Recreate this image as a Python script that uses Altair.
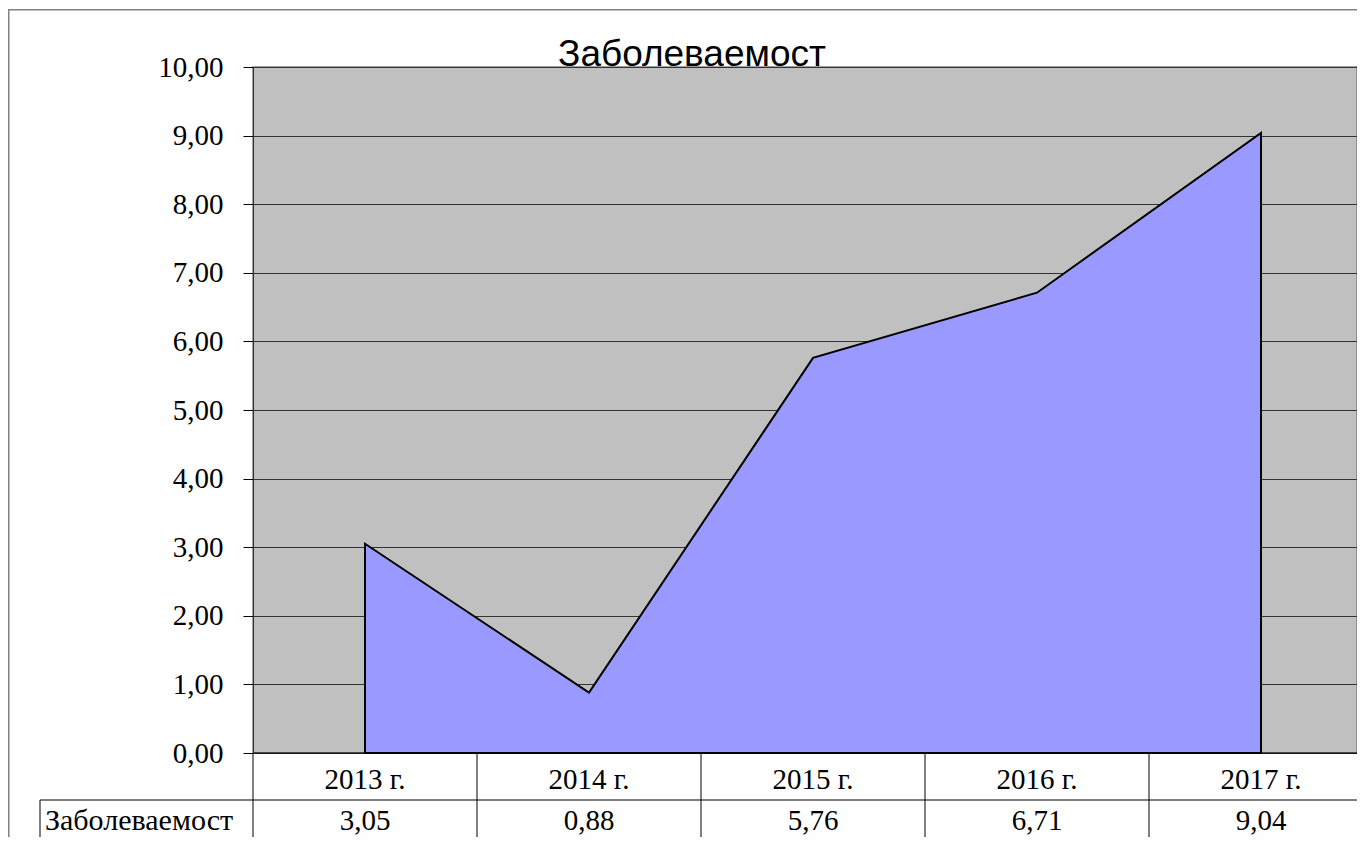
import altair as alt
import pandas as pd

# ---- data ----
title_text = "Заболеваемост"
series_name = "Заболеваемост"
years = ["2013 г.", "2014 г.", "2015 г.", "2016 г.", "2017 г."]
values = [3.05, 0.88, 5.76, 6.71, 9.04]
y_ticks = [0, 1, 2, 3, 4, 5, 6, 7, 8, 9, 10]

# ---- layout ----
STEP = 224          # width of one category column
W = 1104            # visible plot width (page is cut at the right)
H = 686
PAD_L = 245
PAD_T = 59
PAD_B = 84
SERIF = "Liberation Serif"
SANS = "Liberation Sans"
FS = 29

df = pd.DataFrame({
    "i": list(range(len(years))),
    "year": years,
    "v": values,
    "label": [f"{v:.2f}".replace(".", ",") for v in values],
})
bounds = pd.DataFrame({"b": [k - 0.5 for k in range(len(years) + 1)]})
one = pd.DataFrame({"a": [0]})

x_hi = -0.5 + W / STEP
xscale = alt.Scale(domain=[-0.5, x_hi], nice=False, zero=False)
yscale = alt.Scale(domain=[0, 10], nice=False)

area = alt.Chart(df).mark_area(
    color="#9999FF", stroke="black", strokeWidth=2, interpolate="linear"
).encode(
    x=alt.X("i:Q", scale=xscale, axis=None),
    y=alt.Y(
        "v:Q",
        scale=yscale,
        axis=alt.Axis(
            values=y_ticks,
            labelExpr="replace(format(datum.value, '.2f'), '.', ',')",
            grid=True,
            gridColor="#333333",
            gridWidth=1,
            tickColor="black",
            tickSize=10,
            domainColor="#333333",
            labelFont=SERIF,
            labelFontSize=FS,
            labelColor="black",
            labelPadding=20,
            title=None,
        ),
    ),
)

title = alt.Chart(pd.DataFrame({"t": [title_text]})).mark_text(
    font=SANS, fontSize=37, color="black", baseline="alphabetic", align="center"
).encode(
    x=alt.value(439), y=alt.value(-1), text="t:N"
)

# table lines
top_line = alt.Chart(one).mark_rule(color="black", strokeWidth=1).encode(
    x=alt.value(0), x2=alt.value(W), y=alt.value(H)
)
row_line = alt.Chart(one).mark_rule(color="black", strokeWidth=1).encode(
    x=alt.value(-213), x2=alt.value(W), y=alt.value(H + 47)
)
left_line = alt.Chart(one).mark_rule(color="black", strokeWidth=1).encode(
    x=alt.value(-213), y=alt.value(H + 47), y2=alt.value(H + PAD_B)
)
seps = alt.Chart(bounds).mark_rule(color="black", strokeWidth=1).encode(
    x=alt.X("b:Q", scale=xscale, axis=None),
    y=alt.value(H),
    y2=alt.value(H + PAD_B),
)
year_text = alt.Chart(df).mark_text(
    font=SERIF, fontSize=FS, color="black", baseline="middle", align="center"
).encode(
    x=alt.X("i:Q", scale=xscale, axis=None),
    y=alt.value(H + 27),
    text="year:N",
)
val_text = alt.Chart(df).mark_text(
    font=SERIF, fontSize=FS, color="black", baseline="middle", align="center"
).encode(
    x=alt.X("i:Q", scale=xscale, axis=None),
    y=alt.value(H + 68),
    text="label:N",
)
name_text = alt.Chart(pd.DataFrame({"t": [series_name]})).mark_text(
    font=SERIF, fontSize=30, color="black", baseline="middle", align="left"
).encode(
    x=alt.value(-208), y=alt.value(H + 68), text="t:N"
)
frame = alt.Chart(one).mark_rect(
    fill="transparent", stroke="#808080", strokeWidth=1.5
).encode(
    x=alt.value(-PAD_L + 0.75), x2=alt.value(W + 50),
    y=alt.value(-PAD_T + 1.75), y2=alt.value(H + 200),
)

chart = alt.layer(
    area, top_line, row_line, left_line, seps, year_text, val_text, name_text,
    frame, title
).properties(
    width=W,
    height=H,
    autosize=alt.AutoSizeParams(type="none"),
    padding={"left": PAD_L, "top": PAD_T, "right": 0, "bottom": PAD_B},
    background="white",
).configure_view(
    fill="#C0C0C0", stroke="#808080", strokeWidth=1.5
)

chart.save("out.html", embed_options={"renderer": "svg", "actions": False})
